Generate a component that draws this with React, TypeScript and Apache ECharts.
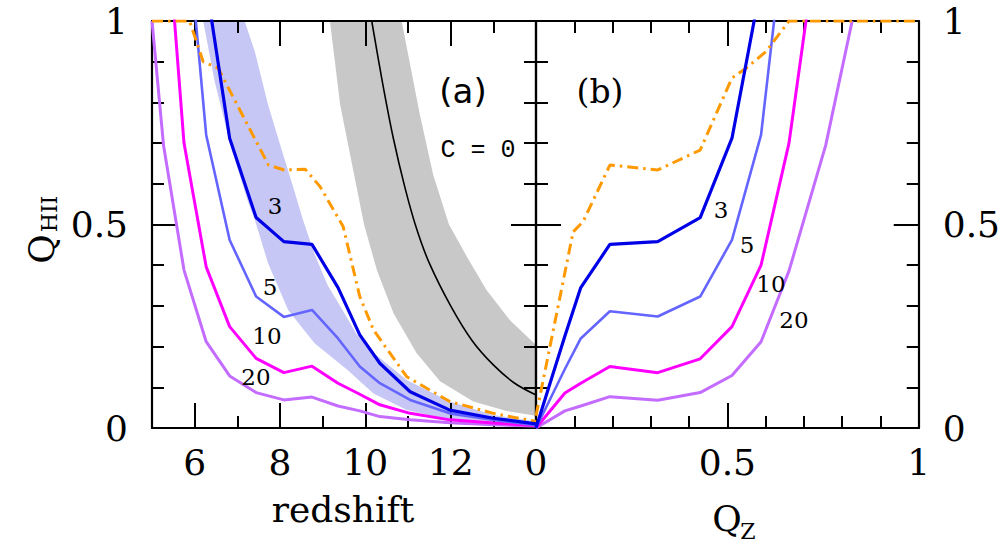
import React, { useEffect, useRef } from "react";
import * as echarts from "echarts";

// ---------- Panel (a): Q_HII versus redshift ----------
const zA = [5.0, 5.27, 5.75, 6.27, 6.82, 7.44, 8.09, 8.75, 9.36, 9.87, 10.34, 11.05, 11.98, 13.0, 14.0];
const qC3A = [null, null, null, 1.09, 0.712, 0.517, 0.458, 0.451, 0.345, 0.229, 0.159, 0.089, 0.044, 0.024, 0.01];
const qC5A = [null, null, 1.32, 0.72, 0.462, 0.323, 0.273, 0.29, 0.22, 0.151, 0.11, 0.069, 0.036, 0.02, 0.007];
const qC10A = [null, 1.35, 0.7, 0.396, 0.249, 0.171, 0.136, 0.152, 0.11, 0.083, 0.057, 0.036, 0.02, 0.012, 0.006];
const qC20A = [1.0, 0.695, 0.388, 0.212, 0.128, 0.087, 0.069, 0.076, 0.054, 0.042, 0.028, 0.02, 0.013, 0.008, 0.005];

const zOrangeA = [5.0, 5.88, 6.2, 6.55, 7.73, 8.1, 8.59, 8.94, 9.48, 9.87, 10.19, 10.97, 11.98, 13.0, 14.0];
const qOrangeA = [1.0, 1.0, 0.9, 0.884, 0.646, 0.634, 0.636, 0.593, 0.495, 0.323, 0.241, 0.126, 0.065, 0.036, 0.016];

const zC0 = [10.15, 10.4, 10.66, 10.93, 11.2, 11.5, 12.0, 12.5, 13.0, 13.5, 14.0];
const qC0 = [1.0, 0.85, 0.71, 0.59, 0.49, 0.405, 0.3, 0.215, 0.155, 0.11, 0.081];

const zGreyUp = [10.85, 11.28, 11.59, 11.96, 12.38, 12.84, 13.39, 14.0];
const qGreyUp = [1.0, 0.769, 0.622, 0.5, 0.421, 0.339, 0.265, 0.204];
const zGreyLo = [9.17, 9.41, 9.97, 10.27, 10.66, 11.2, 11.75, 12.53, 13.31, 14.0];
const qGreyLo = [1.0, 0.794, 0.5, 0.388, 0.282, 0.184, 0.115, 0.065, 0.042, 0.03];

const zBlueUp = [7.17, 7.41, 7.72, 8.03, 8.34, 8.54, 8.8, 9.12, 9.41, 9.8, 10.19, 10.97, 11.98, 13.0, 14.0];
const qBlueUp = [1.0, 0.925, 0.794, 0.687, 0.581, 0.511, 0.43, 0.35, 0.3, 0.23, 0.185, 0.118, 0.065, 0.032, 0.016];
const zBlueLo = [6.2, 6.47, 6.86, 7.25, 7.41, 7.72, 8.19, 8.81, 9.59, 10.19, 10.97, 11.98, 14.0];
const qBlueLo = [1.0, 0.851, 0.687, 0.556, 0.511, 0.405, 0.29, 0.208, 0.142, 0.085, 0.044, 0.02, 0.008];

// ---------- Panel (b): Q_HII versus Q_Z ----------
const qzB = [0, 0.0755, 0.117, 0.193, 0.318, 0.429, 0.512, 0.588, 0.661, 0.757, 0.826];
const qC3B = [0, 0.226, 0.345, 0.451, 0.458, 0.517, 0.712, 1.09, null, null, null];
const qC5B = [0, 0.145, 0.22, 0.287, 0.274, 0.323, 0.462, 0.72, 1.32, null, null];
const qC10B = [0, 0.086, 0.11, 0.151, 0.136, 0.17, 0.249, 0.4, 0.7, 1.35, null];
const qC20B = [0, 0.042, 0.054, 0.077, 0.068, 0.087, 0.129, 0.212, 0.386, 0.695, 1.0];
const qzOrangeB = [0, 0.097, 0.123, 0.193, 0.318, 0.429, 0.512, 0.549, 0.601, 0.661, 1.0];
const qOrangeB = [0.03, 0.482, 0.507, 0.646, 0.634, 0.683, 0.86, 0.884, 0.925, 1.0, 1.0];

// ---------- Axis ticks / labels ----------
const zMajor = [6, 8, 10, 12];
const zMinor = [7, 9, 11, 13];
const zLabels = [6, 8, 10, 12];
const unitMajor = [0.5];
const unitMinor = [0.1, 0.2, 0.3, 0.4, 0.6, 0.7, 0.8, 0.9];
const unitLabels = [0, 0.5, 1];

const SERIF = '"DejaVu Serif", serif';

function pairs(xs: number[], ys: (number | null)[]) {
  const out: number[][] = [];
  xs.forEach((x, i) => {
    const y = ys[i];
    if (y !== null && y !== undefined) out.push([x, y]);
  });
  return out;
}

function axis(
  kind: "x" | "y",
  grid: number,
  position: string,
  min: number,
  max: number,
  ticks: number[],
  tickLen: number,
  showLine: boolean,
  labels: number[] | null
) {
  return {
    type: "value",
    gridIndex: grid,
    position,
    min,
    max,
    z: 1,
    axisLine: { show: showLine, onZero: false, lineStyle: { color: "#000", width: 2.2 } },
    axisTick: { show: true, inside: true, length: tickLen, customValues: ticks, lineStyle: { color: "#000", width: 2 } },
    axisLabel: labels
      ? {
          show: true,
          customValues: labels,
          margin: kind === "x" ? 16 : 24,
          color: "#000",
          fontSize: 36,
          fontFamily: SERIF,
        }
      : { show: false },
    splitLine: { show: false },
    minorTick: { show: false },
  };
}

function line(data: number[][], color: string, width: number, xi: number, yi: number, extra: any = {}) {
  return {
    type: "line",
    xAxisIndex: xi,
    yAxisIndex: yi,
    data,
    symbol: "none",
    showSymbol: false,
    clip: true,
    silent: true,
    z: 3,
    lineStyle: { color, width, ...(extra.lineStyle || {}) },
    smooth: extra.smooth || false,
  };
}

function band(upper: number[][], lower: number[][], color: string) {
  return {
    type: "custom",
    xAxisIndex: 0,
    yAxisIndex: 0,
    clip: true,
    silent: true,
    z: 0,
    data: [[10, 0.5]],
    renderItem: (_params: any, api: any) => {
      const pts = upper.map((p) => api.coord(p)).concat(lower.slice().reverse().map((p) => api.coord(p)));
      return { type: "polygon", shape: { points: pts }, style: { fill: color } };
    },
  };
}

function txt(text: string, x: number, y: number, size: number, family = SERIF, rotation = 0) {
  return {
    type: "text",
    x,
    y,
    rotation,
    z: 10,
    silent: true,
    style: {
      text,
      fill: "#000",
      font: `${size}px ${family}`,
      align: "center",
      verticalAlign: "middle",
    },
  };
}

const C3 = "#0000e6";
const C5 = "#6464ff";
const C10 = "#ff00ff";
const C20 = "#c46cff";
const ORANGE = "#ff9900";
const DASHDOT = [11, 5, 2.5, 5];

export default function App() {
  const ref = useRef<HTMLDivElement>(null);
  useEffect(() => {
    const chart = echarts.init(ref.current!, null, { renderer: "svg" });
    const option: any = {
      animation: false,
      backgroundColor: "#fff",
      grid: [
        { left: 152, top: 21, width: 384, height: 407, show: false },
        { left: 536, top: 21, width: 384, height: 407, show: false },
      ],
      xAxis: [
        axis("x", 0, "bottom", 5, 14, zMajor, 25, true, zLabels),
        axis("x", 0, "bottom", 5, 14, zMinor, 12, false, null),
        axis("x", 0, "top", 5, 14, zMajor, 25, true, null),
        axis("x", 0, "top", 5, 14, zMinor, 12, false, null),
        axis("x", 1, "bottom", 0, 1, unitMajor, 25, true, unitLabels),
        axis("x", 1, "bottom", 0, 1, unitMinor, 12, false, null),
        axis("x", 1, "top", 0, 1, unitMajor, 25, true, null),
        axis("x", 1, "top", 0, 1, unitMinor, 12, false, null),
      ],
      yAxis: [
        axis("y", 0, "left", 0, 1, unitMajor, 25, true, unitLabels),
        axis("y", 0, "left", 0, 1, unitMinor, 12, false, null),
        axis("y", 0, "right", 0, 1, unitMajor, 25, true, null),
        axis("y", 0, "right", 0, 1, unitMinor, 12, false, null),
        axis("y", 1, "left", 0, 1, unitMajor, 25, true, null),
        axis("y", 1, "left", 0, 1, unitMinor, 12, false, null),
        axis("y", 1, "right", 0, 1, unitMajor, 25, true, unitLabels),
        axis("y", 1, "right", 0, 1, unitMinor, 12, false, null),
      ],
      series: [
        band(pairs(zGreyUp, qGreyUp), pairs(zGreyLo, qGreyLo), "#c8c8c8"),
        band(pairs(zBlueUp, qBlueUp), pairs(zBlueLo, qBlueLo), "#c6c7f5"),
        line(pairs(zC0, qC0), "#000", 1.6, 0, 0, { smooth: 0.3 }),
        line(pairs(zA, qC20A), C20, 3, 0, 0),
        line(pairs(zA, qC10A), C10, 3, 0, 0),
        line(pairs(zA, qC5A), C5, 2.6, 0, 0),
        line(pairs(zOrangeA, qOrangeA), ORANGE, 3, 0, 0, { lineStyle: { type: DASHDOT } }),
        line(pairs(zA, qC3A), C3, 3.2, 0, 0),
        line(pairs(qzB, qC20B), C20, 3, 4, 4),
        line(pairs(qzB, qC10B), C10, 3, 4, 4),
        line(pairs(qzB, qC5B), C5, 2.6, 4, 4),
        line(pairs(qzOrangeB, qOrangeB), ORANGE, 3, 4, 4, { lineStyle: { type: DASHDOT } }),
        line(pairs(qzB, qC3B), C3, 3.2, 4, 4),
      ],
      graphic: [
        txt("redshift", 343, 509, 36),
        txt("Q", 727, 518, 36),
        txt("Z", 748, 531, 22),
        txt("Q", 41, 249, 36, SERIF, Math.PI / 2),
        txt("HII", 49, 214, 22, SERIF, Math.PI / 2),
        txt("(a)", 463, 91, 34, '"DejaVu Sans", sans-serif'),
        txt("(b)", 600, 91, 33),
        txt("C = 0", 478, 150, 25, '"Liberation Mono", monospace'),
        txt("3", 275, 206, 23),
        txt("5", 270, 287, 23),
        txt("10", 267, 336, 23),
        txt("20", 256, 377, 23),
        txt("3", 721, 210, 23),
        txt("5", 747, 245, 23),
        txt("10", 771, 284, 23),
        txt("20", 794, 320, 23),
      ],
    };
    chart.setOption(option);
    return () => chart.dispose();
  }, []);
  return (
    <div
      ref={ref}
      style={{ position: "fixed", left: 0, top: 0, width: 1003, height: 544, background: "#fff" }}
    />
  );
}
